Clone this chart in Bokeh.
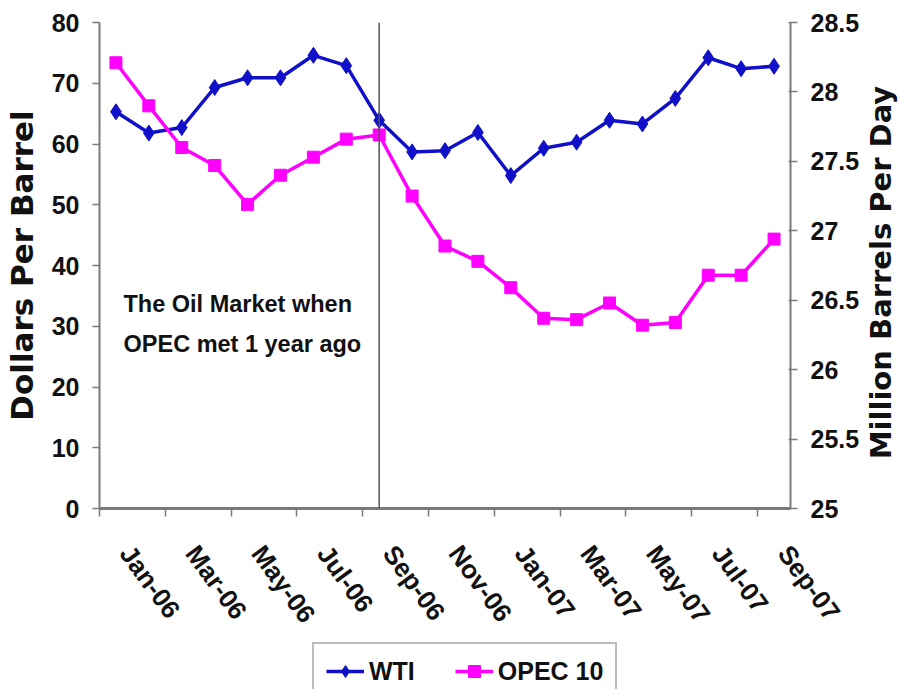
import math

from bokeh.embed import file_html
from bokeh.layouts import column, row
from bokeh.models import (ColumnDataSource, CustomJSTickFormatter, FixedTicker, Label,
                          Legend, LegendItem, LinearAxis, Range1d, Span)
from bokeh.plotting import figure
from bokeh.resources import INLINE

# Monthly series, Jan 2006 .. Sep 2007
months = ["Jan-06", "Feb-06", "Mar-06", "Apr-06", "May-06", "Jun-06", "Jul-06",
          "Aug-06", "Sep-06", "Oct-06", "Nov-06", "Dec-06", "Jan-07", "Feb-07",
          "Mar-07", "Apr-07", "May-07", "Jun-07", "Jul-07", "Aug-07", "Sep-07"]
# WTI crude, dollars per barrel
wti = [65.3, 61.8, 62.7, 69.3, 70.9, 70.9, 74.6, 72.9, 63.9, 58.7, 58.9,
       61.9, 54.8, 59.3, 60.3, 63.9, 63.3, 67.5, 74.2, 72.4, 72.8]
# OPEC-10 crude production, million barrels per day
opec10 = [28.21, 27.90, 27.60, 27.47, 27.19, 27.40, 27.53, 27.66, 27.69, 27.25, 26.89,
          26.78, 26.59, 26.37, 26.36, 26.48, 26.32, 26.34, 26.68, 26.68, 26.94]
opec_meeting = "Sep-06"

price_ticks = [0, 10, 20, 30, 40, 50, 60, 70, 80]
volume_ticks = [25, 25.5, 26, 26.5, 27, 27.5, 28, 28.5]

BLUE = "#1010C8"
PINK = "#FF00FF"
GRID = "#7a7a7a"
TEXT = "#111111"
FONT = "Liberation Sans"
TITLE_FONT = "DejaVu Sans"

MAIN_W, MAIN_H = 862, 641
idx = list(range(len(months)))
src = ColumnDataSource(data=dict(x=idx, month=months, wti=wti, opec=opec10))

p = figure(width=MAIN_W, height=MAIN_H, output_backend="svg", toolbar_location=None,
           x_range=Range1d(-0.5, len(months) - 0.5),
           y_range=Range1d(price_ticks[0], price_ticks[-1]),
           min_border_left=98, min_border_right=MAIN_W - 790, min_border_top=22,
           min_border_bottom=133, x_axis_type=None, y_axis_type=None)
p.outline_line_color = None
p.background_fill_color = "white"
p.border_fill_color = "white"
p.extra_y_ranges = {"opec": Range1d(volume_ticks[0], volume_ticks[-1])}

# Bottom axis: labels every second month (set just right of the slot centre),
# tick marks on the boundaries between category slots
xaxis = LinearAxis(
    ticker=FixedTicker(ticks=[i + 0.3 for i in idx[::2]],
                       minor_ticks=[i - 0.5 for i in idx[::2]]),
    formatter=CustomJSTickFormatter(args=dict(months=months),
                                    code="return months[Math.round(tick)] || ''"),
)
xaxis.major_label_orientation = -0.94
xaxis.major_tick_out = 0
xaxis.major_tick_in = 0
xaxis.minor_tick_out = 8
xaxis.minor_tick_in = 0
xaxis.minor_tick_line_color = GRID
xaxis.minor_tick_line_width = 1.5
xaxis.axis_line_color = GRID
xaxis.axis_line_width = 3
xaxis.major_label_standoff = 32
xaxis.major_label_text_font = FONT
xaxis.major_label_text_font_size = "26px"
xaxis.major_label_text_font_style = "bold"
xaxis.major_label_text_color = TEXT
p.add_layout(xaxis, "below")

# Left axis: price
yaxis = LinearAxis(ticker=FixedTicker(ticks=price_ticks))
yaxis.major_tick_out = 7
yaxis.major_tick_in = 0
yaxis.minor_tick_line_color = None
yaxis.axis_line_color = GRID
yaxis.axis_line_width = 2
yaxis.major_tick_line_color = GRID
yaxis.major_tick_line_width = 1.5
yaxis.major_label_standoff = 13
yaxis.major_label_text_font = FONT
yaxis.major_label_text_font_size = "25px"
yaxis.major_label_text_font_style = "bold"
yaxis.major_label_text_color = TEXT
yaxis.axis_label = "Dollars Per Barrel"
yaxis.axis_label_standoff = 9
yaxis.axis_label_text_font = TITLE_FONT
yaxis.axis_label_text_font_size = "31px"
yaxis.axis_label_text_font_style = "bold"
yaxis.axis_label_text_color = TEXT
p.add_layout(yaxis, "left")

# Right axis: production
raxis = LinearAxis(y_range_name="opec", ticker=FixedTicker(ticks=volume_ticks),
                   formatter=CustomJSTickFormatter(code="return tick.toString()"))
raxis.major_tick_out = 7
raxis.major_tick_in = 2
raxis.minor_tick_line_color = None
raxis.axis_line_color = GRID
raxis.axis_line_width = 2
raxis.major_tick_line_color = GRID
raxis.major_tick_line_width = 1.5
raxis.major_label_standoff = 13
raxis.major_label_text_font = FONT
raxis.major_label_text_font_size = "25px"
raxis.major_label_text_font_style = "bold"
raxis.major_label_text_color = TEXT
p.add_layout(raxis, "right")

p.ygrid.ticker = FixedTicker(ticks=price_ticks)
p.ygrid.grid_line_color = GRID
p.ygrid.grid_line_width = 2.5
p.xgrid.grid_line_color = None

# Marker for the month OPEC met
p.add_layout(Span(location=months.index(opec_meeting), dimension="height",
                  line_color="#555555", line_width=1.5))

p.line("x", "wti", source=src, line_color=BLUE, line_width=3.5)
p.scatter("x", "wti", source=src, marker="diamond", size=16,
          fill_color=BLUE, line_color=BLUE)
p.line("x", "opec", source=src, line_color=PINK, line_width=3.5, y_range_name="opec")
p.scatter("x", "opec", source=src, marker="square", size=12,
          fill_color=PINK, line_color=PINK, y_range_name="opec")

# Note inside the plot (positions are the middle of each text line)
for text, sy in (("The Oil Market when", 205), ("OPEC met 1 year ago", 164.5)):
    p.add_layout(Label(x=24, y=sy, x_units="screen", y_units="screen", text=text,
                       text_align="left", text_baseline="middle",
                       text_font=FONT, text_font_size="23.5px",
                       text_font_style="bold", text_color=TEXT))


def strip(width, height):
    """Blank figure used to hold text or a key beside the main chart."""
    f = figure(width=width, height=height, output_backend="svg", toolbar_location=None,
               x_range=Range1d(0, 1), y_range=Range1d(0, 1),
               min_border_left=0, min_border_right=0, min_border_top=0,
               min_border_bottom=0, x_axis_type=None, y_axis_type=None)
    f.outline_line_color = None
    f.background_fill_color = "white"
    f.border_fill_color = "white"
    f.grid.visible = False
    return f


# Title for the right-hand (production) axis, reading bottom to top.
# In the row this strip shares the chart's top/bottom borders, so its
# frame runs over the same vertical span as the plot area.
side = strip(898 - MAIN_W, MAIN_H)
side.add_layout(Label(x=18.5, y=236, x_units="screen", y_units="screen",
                      text="Million Barrels Per Day", angle=math.pi / 2,
                      text_align="center", text_baseline="middle",
                      text_font=TITLE_FONT, text_font_size="29px",
                      text_font_style="bold", text_color=TEXT))

# Legend strip under the chart; the series sit outside its (0..1) view
key = strip(898, 689 - MAIN_H)
k_wti_l = key.line("x", "wti", source=src, line_color=BLUE, line_width=3.5)
k_wti_s = key.scatter("x", "wti", source=src, marker="diamond", size=16,
                      fill_color=BLUE, line_color=BLUE)
k_opec_l = key.line("x", "opec", source=src, line_color=PINK, line_width=3.5)
k_opec_s = key.scatter("x", "opec", source=src, marker="square", size=12,
                       fill_color=PINK, line_color=PINK)

legend = Legend(items=[LegendItem(label="WTI", renderers=[k_wti_l, k_wti_s]),
                       LegendItem(label="OPEC 10", renderers=[k_opec_l, k_opec_s])],
                orientation="horizontal", location=(312, -11))
legend.border_line_color = GRID
legend.border_line_width = 2
legend.background_fill_color = "white"
legend.background_fill_alpha = 1
legend.margin = 0
legend.padding = 12
legend.spacing = 40
legend.label_standoff = 5
legend.glyph_width = 38
legend.glyph_height = 30
legend.label_height = 30
legend.label_text_font = FONT
legend.label_text_font_size = "25px"
legend.label_text_font_style = "bold"
legend.label_text_color = TEXT
key.add_layout(legend, "center")

open("out.html", "w").write(file_html(column(row(p, side), key), INLINE))
